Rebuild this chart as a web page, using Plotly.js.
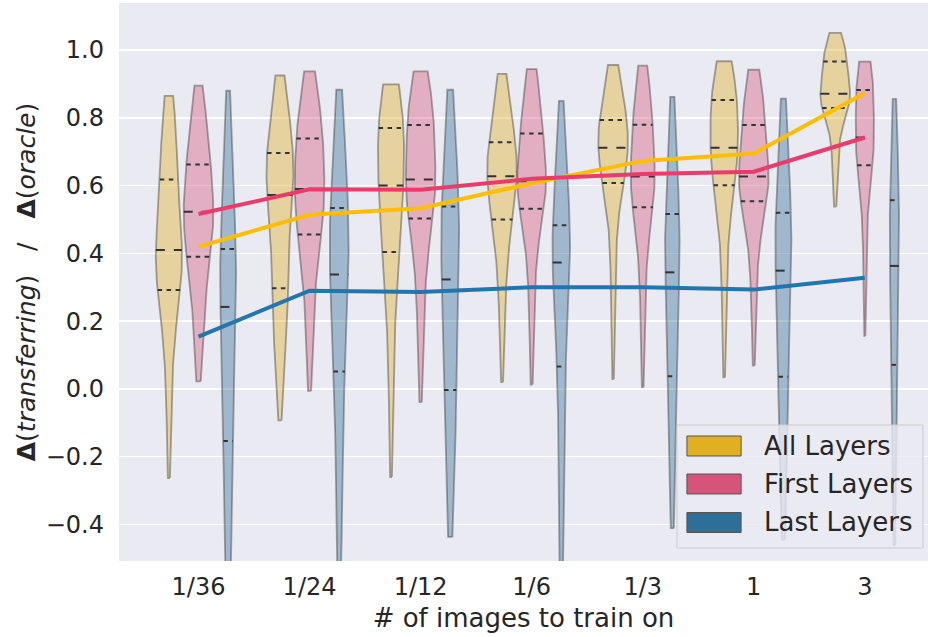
<!DOCTYPE html>
<html>
<head>
<meta charset="utf-8">
<script src="https://cdn.plot.ly/plotly-3.0.1.min.js"></script>
<style>html,body{margin:0;padding:0;background:#fff;}#chart{width:928px;height:637px;}</style>
</head>
<body>
<div id="chart"></div>
<script>
// ---------------- data ----------------
const categories = ["1/36", "1/24", "1/12", "1/6", "1/3", "1", "3"];
const seriesNames = ["All Layers", "First Layers", "Last Layers"];
const yTicks = [-0.4, -0.2, 0.0, 0.2, 0.4, 0.6, 0.8, 1.0];

// estimated quantiles of each distribution at p = 0, 1/16, ..., 1
// (index 4 = lower quartile, 8 = median, 12 = upper quartile)
const allLayersQ = [
  [-0.263, 0.00, 0.15, 0.24, 0.292, 0.33, 0.36, 0.39, 0.410, 0.44, 0.49, 0.55, 0.618, 0.68, 0.74, 0.80, 0.865],
  [-0.093, 0.10, 0.19, 0.25, 0.297, 0.38, 0.46, 0.52, 0.572, 0.60, 0.63, 0.66, 0.696, 0.74, 0.79, 0.85, 0.925],
  [-0.260, 0.05, 0.22, 0.33, 0.404, 0.46, 0.51, 0.56, 0.600, 0.64, 0.68, 0.725, 0.770, 0.80, 0.83, 0.865, 0.899],
  [0.020, 0.25, 0.36, 0.44, 0.500, 0.54, 0.57, 0.60, 0.628, 0.65, 0.675, 0.70, 0.728, 0.77, 0.82, 0.87, 0.930],
  [0.029, 0.30, 0.45, 0.55, 0.608, 0.64, 0.665, 0.69, 0.712, 0.73, 0.75, 0.77, 0.794, 0.83, 0.87, 0.91, 0.956],
  [0.034, 0.30, 0.44, 0.54, 0.601, 0.63, 0.66, 0.685, 0.712, 0.745, 0.78, 0.815, 0.853, 0.88, 0.905, 0.935, 0.967],
  [0.538, 0.66, 0.74, 0.80, 0.829, 0.84, 0.85, 0.86, 0.871, 0.89, 0.915, 0.94, 0.966, 0.985, 1.00, 1.02, 1.051]
];
const firstLayersQ = [
  [0.022, 0.15, 0.25, 0.33, 0.390, 0.42, 0.45, 0.49, 0.523, 0.55, 0.58, 0.62, 0.662, 0.71, 0.76, 0.82, 0.895],
  [-0.006, 0.18, 0.30, 0.39, 0.456, 0.49, 0.52, 0.555, 0.590, 0.63, 0.665, 0.70, 0.739, 0.78, 0.83, 0.88, 0.937],
  [-0.039, 0.20, 0.33, 0.43, 0.503, 0.53, 0.56, 0.59, 0.618, 0.66, 0.70, 0.74, 0.779, 0.82, 0.86, 0.90, 0.937],
  [0.013, 0.25, 0.38, 0.47, 0.532, 0.555, 0.575, 0.595, 0.613, 0.65, 0.685, 0.72, 0.754, 0.80, 0.85, 0.90, 0.944],
  [0.005, 0.25, 0.38, 0.47, 0.536, 0.56, 0.585, 0.605, 0.627, 0.665, 0.70, 0.74, 0.780, 0.82, 0.86, 0.905, 0.954],
  [0.069, 0.30, 0.42, 0.50, 0.554, 0.575, 0.595, 0.61, 0.627, 0.66, 0.70, 0.74, 0.779, 0.82, 0.86, 0.90, 0.942],
  [0.156, 0.40, 0.53, 0.61, 0.660, 0.68, 0.70, 0.72, 0.742, 0.78, 0.815, 0.85, 0.882, 0.905, 0.925, 0.945, 0.966]
];
const lastLayersQ = [
  [-0.75, -0.55, -0.40, -0.27, -0.154, -0.05, 0.05, 0.15, 0.242, 0.29, 0.33, 0.37, 0.413, 0.50, 0.60, 0.72, 0.880],
  [-0.62, -0.42, -0.25, -0.08, 0.051, 0.14, 0.22, 0.28, 0.338, 0.39, 0.44, 0.49, 0.534, 0.60, 0.67, 0.76, 0.883],
  [-0.437, -0.30, -0.18, -0.08, -0.003, 0.10, 0.18, 0.26, 0.323, 0.38, 0.43, 0.49, 0.538, 0.60, 0.68, 0.77, 0.883],
  [-0.70, -0.45, -0.25, -0.08, 0.066, 0.17, 0.25, 0.32, 0.373, 0.40, 0.43, 0.455, 0.483, 0.55, 0.63, 0.73, 0.850],
  [-0.411, -0.27, -0.15, -0.05, 0.037, 0.13, 0.21, 0.28, 0.344, 0.39, 0.43, 0.475, 0.516, 0.58, 0.66, 0.75, 0.862],
  [-0.445, -0.30, -0.17, -0.06, 0.036, 0.13, 0.21, 0.285, 0.349, 0.39, 0.435, 0.478, 0.520, 0.59, 0.67, 0.76, 0.857],
  [-0.46, -0.30, -0.16, -0.04, 0.071, 0.15, 0.23, 0.30, 0.363, 0.41, 0.46, 0.51, 0.557, 0.62, 0.69, 0.77, 0.856]
];

// mean of each group (the connecting lines)
const meanAll = [0.420, 0.514, 0.533, 0.607, 0.673, 0.695, 0.873];
const meanFirst = [0.516, 0.589, 0.588, 0.620, 0.634, 0.641, 0.742];
const meanLast = [0.154, 0.290, 0.286, 0.300, 0.300, 0.293, 0.328];

// ---------------- style ----------------
const patchColors = ["rgb(224,176,32)", "rgb(214,84,122)", "rgb(47,110,150)"];
const violinFill = ["rgba(224,176,32,0.4)", "rgba(214,84,122,0.4)", "rgba(47,110,150,0.4)"];
const lineColors = ["#FFBF00", "#EB3B6B", "#2176AE"];
const edgeColor = "rgba(50,50,50,0.42)";
const quartColor = "#333333";
const BW = 0.4;           // smoothing bandwidth as a fraction of the spread
const GROUP_W = 0.8;      // width of one category group
const FONT = "DejaVu Sans";
const TXT = "#262626";

// ---------------- density helpers ----------------
function erf(x) {
  const s = Math.sign(x); x = Math.abs(x);
  const t = 1 / (1 + 0.3275911 * x);
  const y = 1 - (((((1.061405429 * t - 1.453152027) * t) + 1.421413741) * t - 0.284496736) * t + 0.254829592) * t * Math.exp(-x * x);
  return s * y;
}
const Phi = z => 0.5 * (1 + erf(z / Math.SQRT2));
function makeDensity(q) {
  const n = q.length;
  const m = q.reduce((a, b) => a + b, 0) / n;
  const sd = Math.sqrt(q.reduce((a, b) => a + (b - m) * (b - m), 0) / (n - 1));
  const h = sd * BW, w = 1 / (n - 1);
  return y => {
    let d = 0;
    for (let i = 0; i < n - 1; i++) {
      const a = q[i], b = q[i + 1], g = b - a;
      if (g <= 0) continue;
      d += w * (Phi((y - a) / h) - Phi((y - b) / h)) / g;
    }
    return d;
  };
}

// ---------------- traces ----------------
const groups = [allLayersQ, firstLayersQ, lastLayersQ];
const nH = groups.length;
const dodge = GROUP_W / nH;
const halfW = dodge / 2;
const traces = [];

categories.forEach((cat, ci) => {
  const dens = groups.map(g => {
    const q = g[ci];
    const f = makeDensity(q);
    const lo = q[0], hi = q[q.length - 1];
    const ys = [], ds = [];
    for (let k = 0; k < 100; k++) { const y = lo + (hi - lo) * k / 99; ys.push(y); ds.push(f(y)); }
    return { q, f, ys, ds };
  });
  const mx = Math.max(...dens.map(d => Math.max(...d.ds)));
  dens.forEach((d, si) => {
    const cx = ci + (si - (nH - 1) / 2) * dodge;
    const xs = [], yy = [];
    for (let k = 0; k < d.ys.length; k++) { xs.push(cx + d.ds[k] / mx * halfW); yy.push(d.ys[k]); }
    for (let k = d.ys.length - 1; k >= 0; k--) { xs.push(cx - d.ds[k] / mx * halfW); yy.push(d.ys[k]); }
    xs.push(xs[0]); yy.push(yy[0]);
    traces.push({
      type: "scatter", mode: "lines", x: xs, y: yy, fill: "toself",
      fillcolor: violinFill[si], line: { color: edgeColor, width: 1.8 },
      hoverinfo: "skip", showlegend: false
    });
    [4, 8, 12].forEach(idx => {
      const qv = d.q[idx];
      const w = d.f(qv) / mx * halfW;
      traces.push({
        type: "scatter", mode: "lines", x: [cx - w, cx + w], y: [qv, qv],
        line: { color: quartColor, width: 2, dash: idx === 8 ? "9px,9px" : "4.5px,4.5px" },
        hoverinfo: "skip", showlegend: false
      });
    });
  });
});

const xIdx = categories.map((c, i) => i);
[meanAll, meanFirst, meanLast].forEach((m, si) => {
  traces.push({
    type: "scatter", mode: "lines", x: xIdx, y: m, name: seriesNames[si],
    line: { color: lineColors[si], width: 4 }, showlegend: false
  });
});

// ---------------- manual legend (patches + text) ----------------
const shapes = [{
  type: "rect", xref: "paper", yref: "paper", x0: 0.6897, x1: 0.9938, y0: 0.0233, y1: 0.2437,
  fillcolor: "rgba(234,234,242,0.8)", line: { color: "rgba(204,204,204,1)", width: 1 }, layer: "above"
}];
const annotations = [];
const rowY = [0.2061, 0.1380, 0.0690];
seriesNames.forEach((nm, si) => {
  shapes.push({
    type: "rect", xref: "paper", yref: "paper", x0: 0.702, x1: 0.769,
    y0: rowY[si] - 0.0179, y1: rowY[si] + 0.0179,
    fillcolor: patchColors[si], line: { color: "#555555", width: 1 }, layer: "above"
  });
  annotations.push({
    xref: "paper", yref: "paper", x: 0.7948, y: rowY[si], xanchor: "left", yanchor: "middle",
    text: nm, showarrow: false, font: { family: FONT, size: 26, color: TXT }
  });
});

const layout = {
  width: 928, height: 637,
  margin: { l: 119, r: 0, t: 3, b: 76 },
  paper_bgcolor: "#ffffff", plot_bgcolor: "#EAEAF2",
  font: { family: FONT, color: TXT },
  showlegend: false,
  xaxis: {
    range: [-0.716, 6.569], tickmode: "array", tickvals: xIdx, ticktext: categories,
    showgrid: false, zeroline: false, showline: false, ticks: "", ticklabelstandoff: 9,
    tickfont: { family: FONT, size: 24, color: TXT },
    title: { text: "# of images to train on", font: { family: FONT, size: 26, color: TXT }, standoff: 8 }
  },
  yaxis: {
    range: [-0.508, 1.139], tickmode: "array", tickvals: yTicks, tickformat: ".1f",
    showgrid: true, gridcolor: "#ffffff", gridwidth: 1.6, zeroline: false, showline: false, ticks: "",
    ticklabelstandoff: 14,
    tickfont: { family: FONT, size: 24, color: TXT },
    title: {
      text: "<b>Δ</b>(<i>transferring</i>)\u00a0\u00a0\u00a0/\u00a0\u00a0\u00a0<b>Δ</b>(<i>oracle</i>)",
      font: { family: FONT, size: 25, color: TXT }, standoff: 2
    }
  },
  shapes, annotations
};

Plotly.newPlot("chart", traces, layout, { staticPlot: true, displayModeBar: false });
</script>
</body>
</html>
